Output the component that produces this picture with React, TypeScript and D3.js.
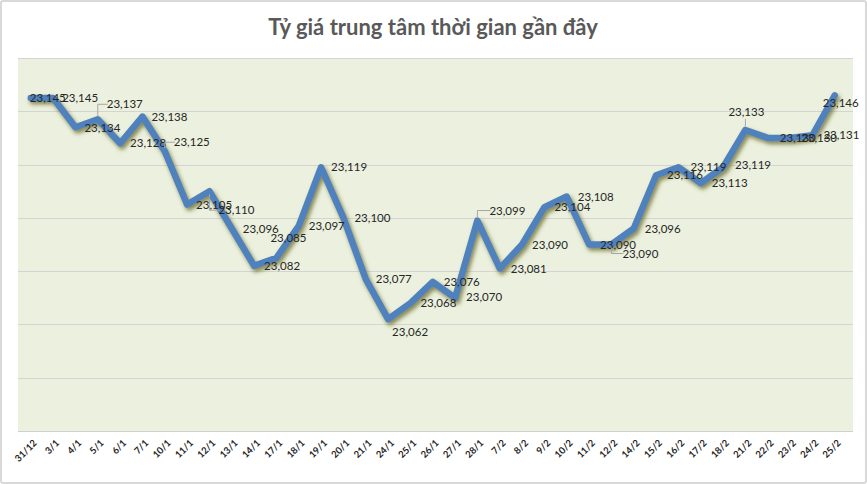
import React, { useEffect } from "react";
import * as d3 from "d3";

const categories = ["31/12","3/1","4/1","5/1","6/1","7/1","10/1","11/1","12/1","13/1","14/1","17/1","18/1","19/1","20/1","21/1","24/1","25/1","26/1","27/1","28/1","7/2","8/2","9/2","10/2","11/2","12/2","14/2","15/2","16/2","17/2","18/2","21/2","22/2","23/2","24/2","25/2"];
const rates = [23145,23145,23134,23137,23128,23138,23125,23105,23110,23096,23082,23085,23097,23119,23100,23077,23062,23068,23076,23070,23099,23081,23090,23104,23108,23090,23090,23096,23116,23119,23113,23119,23133,23130,23130,23131,23146];
const yTicks = [23020,23040,23060,23080,23100,23120,23140,23160];
const title = "Tỷ giá trung tâm thời gian gần đây";

// label offsets (dx, dy) from point, and whether a leader line is drawn
const labelOffsets: [number, number, number][] = [
  [17,0,0],[27,0,0],[27,1,0],[27,-15,1],[28,0,0],[27,0,0],[27,-9,1],[27,0,0],[27,19,1],[29,0,0],
  [28,0,0],[12,-20,0],[28,0,0],[28,0,0],[29,0,0],[28,0,0],[22,13,0],[28,0,0],[29,0,0],[29,-1,0],
  [30,-10,1],[29,0,0],[28,0,0],[28,0,0],[29,0,0],[29,0,0],[29,9,1],[29,0,0],[29,0,0],[30,0,0],
  [29,0,0],[30,-2,0],[1,-18,1],[30,0,0],[29,0,0],[29,0,0],[6,8,0]
];

const W = 867, H = 484;
const plot = { left: 18, right: 853, top: 58, bottom: 431 };

export default function App() {
  useEffect(() => { document.body.style.margin = "0"; }, []);
  const x = d3.scaleBand<string>().domain(categories).range([plot.left + 0.5, plot.right - 6]).paddingInner(0).paddingOuter(0.05);
  const y = d3.scaleLinear().domain([23020, 23160]).range([plot.bottom, plot.top]);
  const cx = (c: string) => (x(c) as number) + x.bandwidth() / 2;
  const line = d3.line<number>().x((_, i) => cx(categories[i])).y((d) => y(d));
  const fmt = d3.format(",");
  const font = "Lato, 'Open Sans', 'Noto Sans', sans-serif";

  return (
    <svg width={W} height={H} style={{ position: "absolute", left: 0, top: 0, display: "block" }} fontFamily={font}>
      <defs>
        <filter id="sh" x="-10%" y="-10%" width="120%" height="130%">
          <feGaussianBlur in="SourceAlpha" stdDeviation="2" />
          <feOffset dx="2" dy="3" result="b" />
          <feFlood floodColor="#6b6a2a" floodOpacity="0.8" />
          <feComposite in2="b" operator="in" />
          <feMerge>
            <feMergeNode />
            <feMergeNode in="SourceGraphic" />
          </feMerge>
        </filter>
      </defs>
      <rect x={0} y={0} width={W} height={H} fill="#ffffff" />
      <rect x={1} y={1} width={W - 2} height={H - 2} fill="none" stroke="#d9d9d9" strokeWidth={2} rx={2} />
      <text x={433} y={35} textAnchor="middle" fontSize={22} fontWeight={700} fill="#595959">{title}</text>
      <rect x={plot.left} y={plot.top} width={plot.right - plot.left} height={plot.bottom - plot.top} fill="#ebf1de" />
      {yTicks.map((t) => (
        <line key={t} x1={plot.left} x2={plot.right} y1={Math.round(y(t)) + 0.5} y2={Math.round(y(t)) + 0.5} stroke="#d4d4d4" strokeWidth={1} />
      ))}
      <path d={line(rates) as string} fill="none" stroke="#4f81bd" strokeWidth={6.5} strokeLinejoin="round" strokeLinecap="round" filter="url(#sh)" />
      {rates.map((v, i) => {
        const px = cx(categories[i]);
        const py = y(v);
        const [dx, dy, lead] = labelOffsets[i];
        const lx = px + dx, ly = py + dy;
        let leader = null;
        if (lead) {
          if (Math.abs(dx) < 5) {
            leader = <path d={`M${px},${py - 4}V${ly + 7}`} stroke="#a6a6a6" fill="none" />;
          } else {
            leader = <path d={`M${px},${py + (dy > 0 ? 3 : -3)}V${ly}H${lx - 17}`} stroke="#a6a6a6" fill="none" />;
          }
        }
        return (
          <g key={i}>
            {leader}
            <text x={lx} y={ly} dy="0.35em" textAnchor="middle" fontSize={11.5} fill="#262626">{fmt(v)}</text>
          </g>
        );
      })}
      <line x1={plot.left} x2={plot.right} y1={plot.bottom + 0.5} y2={plot.bottom + 0.5} stroke="#d0d0d0" />
      {categories.map((c) => (
        <text key={c} transform={`translate(${cx(c) + 2},${plot.bottom + 8}) rotate(-45)`} textAnchor="end" dy="0.7em" fontSize={9.5} fontWeight={700} fill="#262626">{c}</text>
      ))}
    </svg>
  );
}
